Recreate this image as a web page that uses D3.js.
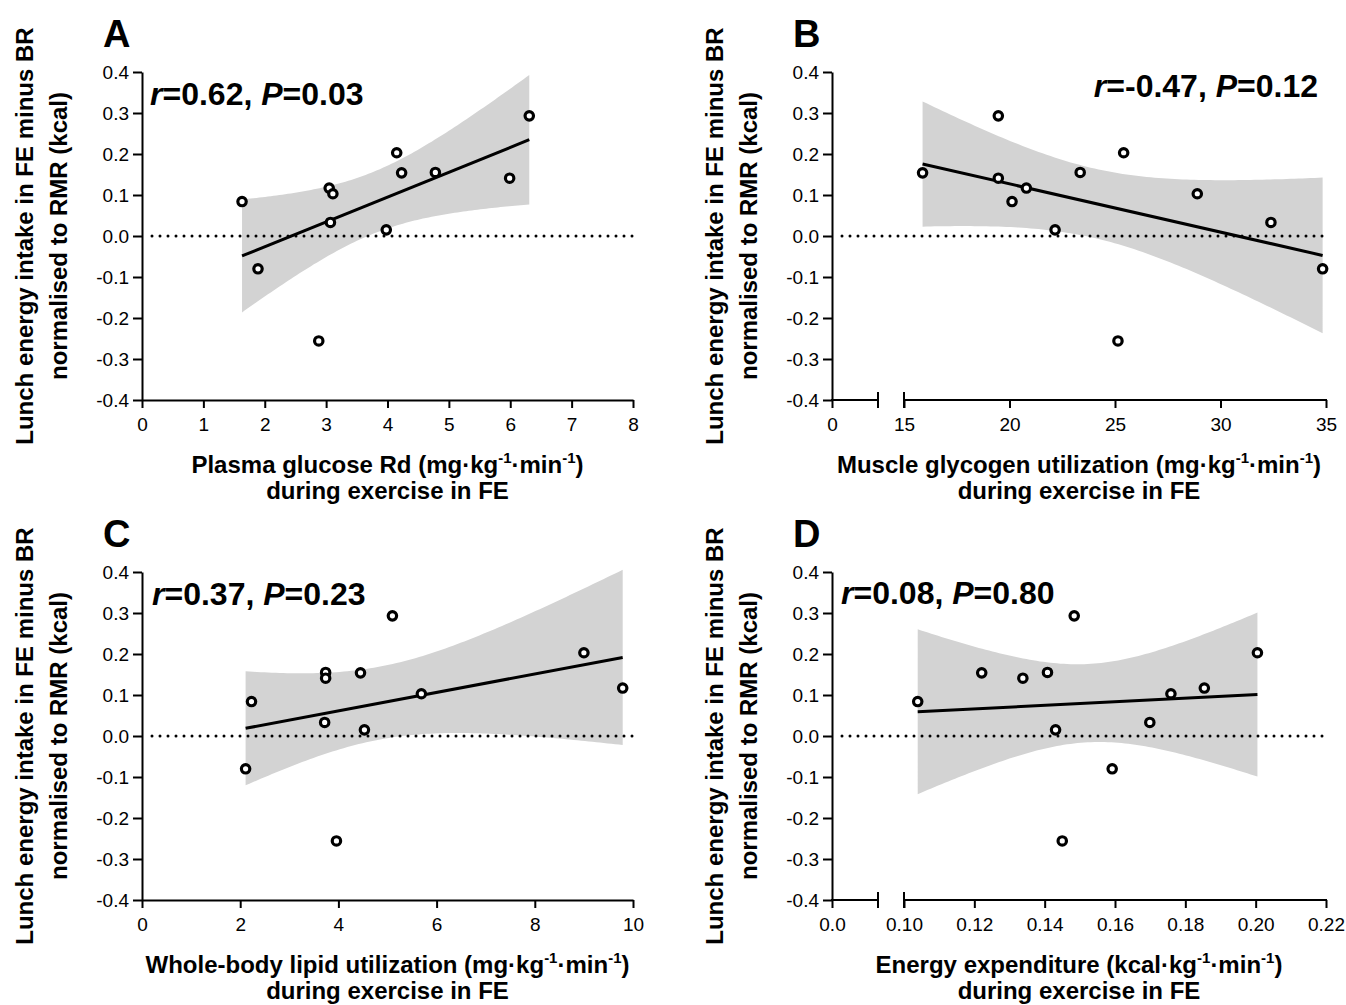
<!DOCTYPE html>
<meta charset="utf-8">
<script src="https://d3js.org/d3.v7.min.js"></script>
<style>
body { margin: 0; background: #fff; }
text { font-family: "Liberation Sans", Arial, sans-serif; fill: #000; }
.axis text { font-size: 19px; }
.axis line, .axis path { stroke: #000; stroke-width: 2px; }
.axisSeg { stroke: #000; stroke-width: 2px; }
.band { fill: #d3d3d3; stroke: none; }
.zeroLine { fill: none; stroke: #000; stroke-width: 3px; stroke-linecap: round; stroke-dasharray: 0 8; }
.regLine { fill: none; stroke: #000; stroke-width: 3px; }
.dot { fill: #fff; stroke: #000; stroke-width: 3.2px; }
.letter { font-size: 38px; font-weight: bold; }
.stat { font-size: 32px; font-weight: bold; }
.ytitle, .xtitle { font-size: 24px; font-weight: bold; }
</style>
<body></body>
<script>

// lunch energy intake (FE minus BR, normalised to RMR), one value per subject
const lunchEI = [0.084, -0.080, -0.256, 0.117, 0.103, 0.033, 0.015, 0.203, 0.154, 0.155, 0.141, 0.293];

// x values for the same subjects in each panel
const glucoseRd    = [1.63, 1.89, 2.88, 3.05, 3.11, 3.07, 3.98, 4.15, 4.23, 4.78, 5.99, 6.31];
const glycogenUtil = [20.12, 34.84, 25.14, 20.80, 28.90, 32.39, 22.16, 25.41, 15.88, 23.35, 19.47, 19.47];
const lipidUtil    = [2.23, 2.11, 3.96, 9.79, 5.69, 3.72, 4.53, 9.00, 4.45, 3.74, 3.74, 5.10];
const energyExp    = [0.1039, 0.1592, 0.1450, 0.1854, 0.1759, 0.1699, 0.1431, 0.2005, 0.1221, 0.1408, 0.1338, 0.1484];

// tick values / labels
const yTicks = [-0.4, -0.3, -0.2, -0.1, 0, 0.1, 0.2, 0.3, 0.4];
const yTickLabels = ["-0.4", "-0.3", "-0.2", "-0.1", "0.0", "0.1", "0.2", "0.3", "0.4"];
const xTicksA = [0, 1, 2, 3, 4, 5, 6, 7, 8];
const xTicksB = [0, 15, 20, 25, 30, 35];
const xTicksC = [0, 2, 4, 6, 8, 10];
const xTicksD = [0, 0.10, 0.12, 0.14, 0.16, 0.18, 0.20, 0.22];
const xTickLabelsD = ["0.0", "0.10", "0.12", "0.14", "0.16", "0.18", "0.20", "0.22"];

const statsText = [["0.62", "0.03"], ["-0.47", "0.12"], ["0.37", "0.23"], ["0.08", "0.80"]];
const yTitleLines = ["Lunch energy intake in FE minus BR", "normalised to RMR (kcal)"];
const xTitleNames = ["Plasma glucose Rd (mg\u00b7kg", "Muscle glycogen utilization (mg\u00b7kg",
                     "Whole-body lipid utilization (mg\u00b7kg", "Energy expenditure (kcal\u00b7kg"];

const T_975_DF10 = 2.228; // two-sided 95% t value, n - 2 = 10

const width = 1346, height = 1005;
const cols = [{left: 142, right: 633}, {left: 832, right: 1326}];
const rows = [{top: 72, bottom: 400}, {top: 572, bottom: 900}];

const SVG = d3.select("body").append("svg")
  .attr("width", width)
  .attr("height", height);

const panels = [
  {letter: "A", x: glucoseRd,    col: 0, row: 0, domain: [0, 8],  ticks: xTicksA, labels: null, brk: null,
   stat: statsText[0], statAnchor: "start", statDx: 8,  statDy: 33, title: xTitleNames[0]},
  {letter: "B", x: glycogenUtil, col: 1, row: 0, domain: [0, 35], ticks: xTicksB, labels: null, brk: [1, 15],
   stat: statsText[1], statAnchor: "end",   statDx: -8, statDy: 25, title: xTitleNames[1]},
  {letter: "C", x: lipidUtil,    col: 0, row: 1, domain: [0, 10], ticks: xTicksC, labels: null, brk: null,
   stat: statsText[2], statAnchor: "start", statDx: 10, statDy: 33, title: xTitleNames[2]},
  {letter: "D", x: energyExp,    col: 1, row: 1, domain: [0, 0.22], ticks: xTicksD, labels: xTickLabelsD, brk: [0.01, 0.10],
   stat: statsText[3], statAnchor: "start", statDx: 9,  statDy: 32, title: xTitleNames[3]}
];

panels.forEach(drawPanel);

function drawPanel(p) {
  const L = cols[p.col].left, R = cols[p.col].right;
  const T = rows[p.row].top, B = rows[p.row].bottom;
  const g = SVG.append("g");

  // x scale, piecewise when the axis is broken
  let xScale;
  if (p.brk) {
    xScale = d3.scaleLinear()
      .domain([p.domain[0], p.brk[0], p.brk[1], p.domain[1]])
      .range([L, L + 46, L + 72, R]);
  } else {
    xScale = d3.scaleLinear().domain(p.domain).range([L, R]);
  }
  const yScale = d3.scaleLinear().domain([-0.4, 0.4]).range([B, T]);

  // linear regression + 95% CI of the line
  const pts = p.x.map((x, i) => ({x: x, y: lunchEI[i]}));
  const n = pts.length;
  const mx = d3.mean(pts, d => d.x), my = d3.mean(pts, d => d.y);
  const sxx = d3.sum(pts, d => (d.x - mx) * (d.x - mx));
  const sxy = d3.sum(pts, d => (d.x - mx) * (d.y - my));
  const slope = sxy / sxx, icpt = my - slope * mx;
  const sres = Math.sqrt(d3.sum(pts, d => Math.pow(d.y - (icpt + slope * d.x), 2)) / (n - 2));
  const [x0, x1] = d3.extent(pts, d => d.x);
  const steps = d3.range(0, 101).map(i => x0 + (x1 - x0) * i / 100);
  const bandData = steps.map(x => {
    const yh = icpt + slope * x;
    const half = T_975_DF10 * sres * Math.sqrt(1 / n + (x - mx) * (x - mx) / sxx);
    return {x: x, lo: yh - half, hi: yh + half};
  });

  g.append("path")
    .attr("class", "band")
    .attr("d", d3.area().x(d => xScale(d.x)).y0(d => yScale(d.lo)).y1(d => yScale(d.hi))(bandData));

  // dotted zero line
  g.append("line")
    .attr("class", "zeroLine")
    .attr("x1", L + 10).attr("x2", R)
    .attr("y1", yScale(0)).attr("y2", yScale(0));

  g.append("line")
    .attr("class", "regLine")
    .attr("x1", xScale(x0)).attr("y1", yScale(icpt + slope * x0))
    .attr("x2", xScale(x1)).attr("y2", yScale(icpt + slope * x1));

  g.selectAll(".dot").data(pts).enter().append("circle")
    .attr("class", "dot")
    .attr("cx", d => xScale(d.x))
    .attr("cy", d => yScale(d.y))
    .attr("r", 4.2);

  // axes
  const yAxis = d3.axisLeft(yScale)
    .tickValues(yTicks)
    .tickFormat((d, i) => yTickLabels[i])
    .tickSize(9).tickSizeOuter(0).tickPadding(4);
  g.append("g").attr("class", "axis")
    .attr("transform", "translate(" + L + ",0)")
    .call(yAxis);

  const xAxis = d3.axisBottom(xScale)
    .tickValues(p.ticks)
    .tickFormat((d, i) => p.labels ? p.labels[i] : d)
    .tickSize(8).tickSizeOuter(0).tickPadding(10);
  const xg = g.append("g").attr("class", "axis")
    .attr("transform", "translate(0," + B + ")")
    .call(xAxis);

  if (p.brk) {
    xg.select(".domain").remove();
    const a = xScale(p.brk[0]), b = xScale(p.brk[1]);
    g.append("line").attr("class", "axisSeg").attr("x1", L - 1).attr("x2", a).attr("y1", B).attr("y2", B);
    g.append("line").attr("class", "axisSeg").attr("x1", b).attr("x2", R + 1).attr("y1", B).attr("y2", B);
    [a, b].forEach(v => {
      g.append("line").attr("class", "axisSeg")
        .attr("x1", v).attr("x2", v).attr("y1", B - 8).attr("y2", B + 8);
    });
  }

  // panel letter
  g.append("text").attr("class", "letter")
    .attr("x", L - 39).attr("y", T - 25)
    .text(p.letter);

  // r / P annotation
  const st = g.append("text").attr("class", "stat")
    .attr("x", p.statAnchor === "start" ? L + p.statDx : R + p.statDx)
    .attr("y", T + p.statDy)
    .attr("text-anchor", p.statAnchor);
  st.append("tspan").style("font-style", "italic").text("r");
  st.append("tspan").text("=" + p.stat[0] + ", ");
  st.append("tspan").style("font-style", "italic").text("P");
  st.append("tspan").text("=" + p.stat[1]);

  // y title (two lines, rotated)
  const cy = (T + B) / 2;
  yTitleLines.forEach((line, i) => {
    const bx = L - 109 + i * 34;
    g.append("text").attr("class", "ytitle")
      .attr("transform", "translate(" + bx + "," + cy + ") rotate(-90)")
      .attr("text-anchor", "middle")
      .text(line);
  });

  // x title with superscripts
  const cx = (L + R) / 2;
  const xt = g.append("text").attr("class", "xtitle")
    .attr("x", cx).attr("y", B + 73)
    .attr("text-anchor", "middle");
  xt.append("tspan").text(p.title);
  xt.append("tspan").attr("dy", -10).style("font-size", "15px").text("-1");
  xt.append("tspan").attr("dy", 10).text("\u00b7min");
  xt.append("tspan").attr("dy", -10).style("font-size", "15px").text("-1");
  xt.append("tspan").attr("dy", 10).text(")");

  g.append("text").attr("class", "xtitle")
    .attr("x", cx).attr("y", B + 99)
    .attr("text-anchor", "middle")
    .text("during exercise in FE");
}

</script>
